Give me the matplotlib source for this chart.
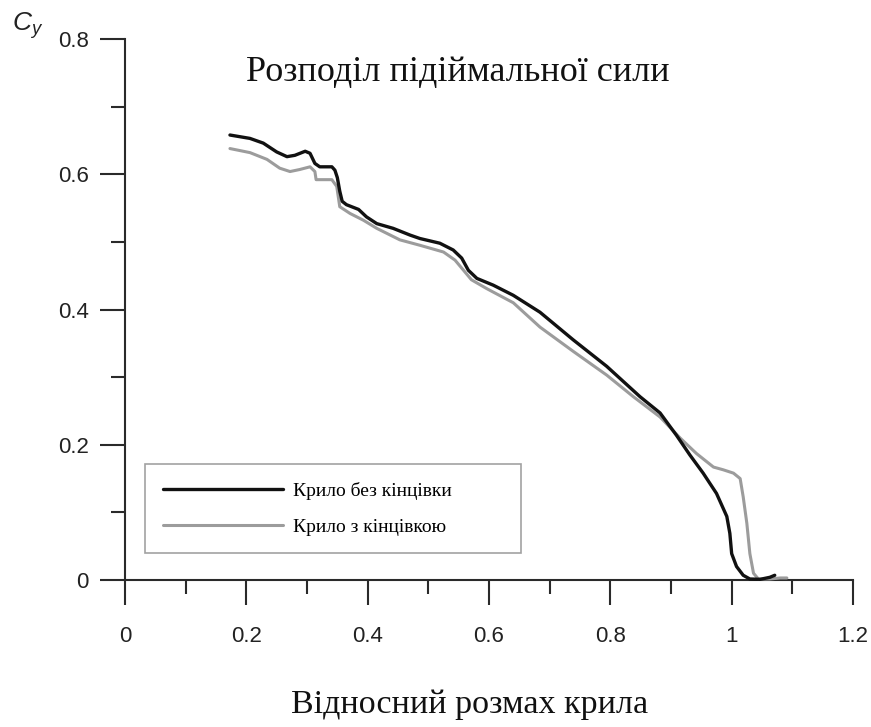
import matplotlib
matplotlib.use("Agg")
import matplotlib.pyplot as plt
from matplotlib.ticker import MultipleLocator

# Lift distribution along relative span
span_plain = [0.173, 0.206, 0.228, 0.250, 0.267, 0.280, 0.297, 0.305, 0.313, 0.321,
              0.341, 0.346, 0.350, 0.354, 0.358, 0.365, 0.385, 0.398, 0.415, 0.442,
              0.470, 0.486, 0.519, 0.541, 0.555, 0.566, 0.580, 0.607, 0.640, 0.684,
              0.739, 0.794, 0.849, 0.882, 0.909, 0.931, 0.953, 0.975, 0.992, 0.997,
              1.000, 1.008, 1.019, 1.030, 1.047, 1.063, 1.071]
cy_plain = [0.658, 0.653, 0.646, 0.633, 0.626, 0.628, 0.634, 0.631, 0.616, 0.611,
            0.611, 0.606, 0.595, 0.575, 0.560, 0.555, 0.548, 0.537, 0.527, 0.520,
            0.510, 0.505, 0.498, 0.488, 0.476, 0.458, 0.446, 0.436, 0.421, 0.396,
            0.355, 0.316, 0.271, 0.247, 0.214, 0.185, 0.158, 0.128, 0.094, 0.069,
            0.039, 0.020, 0.007, 0.0015, 0.001, 0.004, 0.007]

span_tip = [0.173, 0.206, 0.234, 0.255, 0.272, 0.288, 0.305, 0.313, 0.315, 0.327,
            0.341, 0.349, 0.354, 0.371, 0.393, 0.415, 0.453, 0.486, 0.525, 0.544,
            0.558, 0.571, 0.596, 0.640, 0.684, 0.739, 0.794, 0.838, 0.882, 0.915,
            0.942, 0.970, 0.986, 1.003, 1.014, 1.019, 1.025, 1.030, 1.036, 1.044,
            1.063, 1.080, 1.091]
cy_tip = [0.638, 0.632, 0.622, 0.609, 0.604, 0.607, 0.611, 0.604, 0.592, 0.592,
          0.592, 0.582, 0.552, 0.542, 0.532, 0.520, 0.503, 0.495, 0.485, 0.473,
          0.458, 0.444, 0.431, 0.410, 0.374, 0.338, 0.303, 0.271, 0.241, 0.210,
          0.187, 0.167, 0.163, 0.158, 0.150, 0.123, 0.084, 0.039, 0.010, 0.0015,
          0.0015, 0.003, 0.003]

label_plain = "Крило без кінцівки"
label_tip = "Крило з кінцівкою"
title_text = "Розподіл підіймальної сили"
xlabel_text = "Відносний розмах крила"

x_major = [0, 0.2, 0.4, 0.6, 0.8, 1.0, 1.2]
x_labels = ["0", "0.2", "0.4", "0.6", "0.8", "1", "1.2"]
y_major = [0, 0.2, 0.4, 0.6, 0.8]
y_labels = ["0", "0.2", "0.4", "0.6", "0.8"]

plt.rcParams["mathtext.fontset"] = "custom"
plt.rcParams["mathtext.it"] = "Liberation Sans:italic"
plt.rcParams["mathtext.rm"] = "Liberation Sans"

axis_color = "#2a2a2a"
serif = "Liberation Serif"
sans = "Liberation Sans"

fig = plt.figure(figsize=(8.71, 7.27), dpi=100)
ax = fig.add_axes([125 / 871, 1 - 580 / 727, 728 / 871, 541 / 727])

ax.plot(span_tip, cy_tip, color="#9c9c9c", lw=2.2, label=label_tip,
        clip_on=False, zorder=3, solid_capstyle="round", solid_joinstyle="round")
ax.plot(span_plain, cy_plain, color="#111111", lw=2.4, label=label_plain,
        clip_on=False, zorder=4, solid_capstyle="round", solid_joinstyle="round")

ax.set_xlim(0, 1.2)
ax.set_ylim(0, 0.8)

for side in ["top", "right"]:
    ax.spines[side].set_visible(False)
for side in ["left", "bottom"]:
    ax.spines[side].set_linewidth(1.5)
    ax.spines[side].set_color(axis_color)

ax.set_xticks(x_major)
ax.set_xticklabels(x_labels)
ax.set_yticks(y_major)
ax.set_yticklabels(y_labels)
ax.xaxis.set_minor_locator(MultipleLocator(0.1))
ax.yaxis.set_minor_locator(MultipleLocator(0.1))

ax.tick_params(which="major", direction="out", length=18, width=1.5, color=axis_color)
ax.tick_params(which="minor", direction="out", length=10, width=1.5, color=axis_color)
ax.tick_params(axis="x", which="major", pad=15)
ax.tick_params(axis="y", which="major", pad=8)
for lab in ax.get_xticklabels() + ax.get_yticklabels():
    lab.set_fontfamily(sans)
    lab.set_fontsize(16)
    lab.set_color("#222222")

# C_y label at top of the y axis
ax.text(-0.134, 1.024, r"$C_y$", transform=ax.transAxes, fontsize=19,
        ha="center", va="center", color="#222222")

fig.text(458 / 871, 1 - 73 / 727, title_text, fontfamily=serif, fontsize=26,
         ha="center", va="center", color="#111111")
fig.text(470 / 871, 1 - 705 / 727, xlabel_text, fontfamily=serif, fontsize=24.5,
         ha="center", va="center", color="#111111")

handles, labels = ax.get_legend_handles_labels()
leg = ax.legend(handles[::-1], labels[::-1],
                loc="upper left", bbox_to_anchor=(0.0275, 0.2144, 0.517, 0.0),
                mode="expand", borderaxespad=0, fancybox=False,
                prop={"family": serif, "size": 14}, handlelength=6.2,
                handletextpad=0.5, labelspacing=0.95, borderpad=0.9)
leg.get_frame().set_edgecolor("#8a8a8a")
leg.get_frame().set_linewidth(1.2)

fig.savefig("out.png", dpi=100, facecolor="white")
